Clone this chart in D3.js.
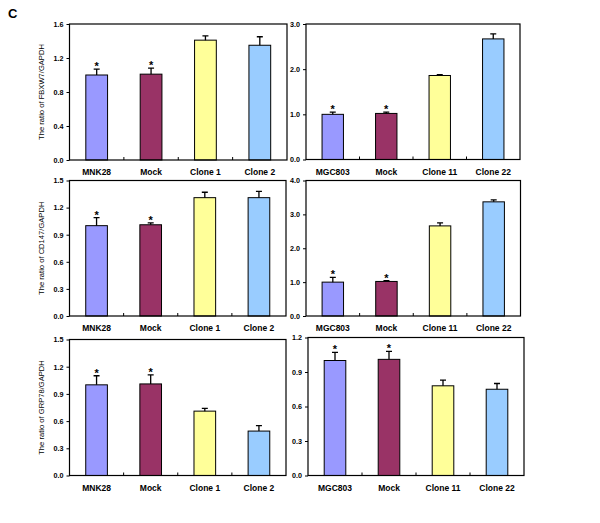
<!DOCTYPE html>
<html>
<head>
<meta charset="utf-8">
<script src="https://cdn.jsdelivr.net/npm/d3@7"></script>
<style>
  body { margin: 0; background: #fff; }
  svg text { font-family: "Liberation Sans", Arial, sans-serif; fill: #000; }
  .tick text { font-size: 7.2px; font-weight: bold; }
  .cat { font-size: 8.5px; font-weight: bold; }
  .ytitle { font-size: 7.6px; }
</style>
</head>
<body>
<div id="chart"></div>
<script>
// categories
const leftCats = ["MNK28", "Mock", "Clone 1", "Clone 2"];
const rightCats = ["MGC803", "Mock", "Clone 11", "Clone 22"];
const colors = ["#9999ff", "#993366", "#ffff99", "#99ccff"];
const starred = [true, true, false, false];
const yTitles = ["The ratio of FBXW7/GAPDH", "The ratio of CD147/GAPDH", "The ratio of GRP78/GAPDH"];

// FBXW7
const fbxw7Left = [1.00, 1.01, 1.41, 1.35];
const fbxw7LeftErr = [0.07, 0.07, 0.05, 0.10];
const fbxw7Right = [1.00, 1.02, 1.86, 2.67];
const fbxw7RightErr = [0.05, 0.03, 0.02, 0.11];
// CD147
const cd147Left = [1.00, 1.01, 1.31, 1.31];
const cd147LeftErr = [0.09, 0.02, 0.06, 0.07];
const cd147Right = [1.00, 1.02, 2.66, 3.37];
const cd147RightErr = [0.14, 0.02, 0.09, 0.06];
// GRP78
const grp78Left = [1.00, 1.01, 0.71, 0.49];
const grp78LeftErr = [0.10, 0.10, 0.03, 0.06];
const grp78Right = [1.00, 1.01, 0.78, 0.75];
const grp78RightErr = [0.07, 0.07, 0.05, 0.05];

// tick labels
const ticksA = [0, 0.4, 0.8, 1.2, 1.6];
const ticksB = [0, 1, 2, 3];
const ticksC = [0, 0.3, 0.6, 0.9, 1.2, 1.5];
const ticksD = [0, 1, 2, 3, 4];
const ticksE = [0, 0.3, 0.6, 0.9, 1.2];

const panels = [
  { x0: 69.5, x1: 287, y0: 24, y1: 160, cats: leftCats, vals: fbxw7Left, errs: fbxw7LeftErr, ticks: ticksA, title: yTitles[0] },
  { x0: 306, x1: 520, y0: 24, y1: 159.5, cats: rightCats, vals: fbxw7Right, errs: fbxw7RightErr, ticks: ticksB },
  { x0: 69.5, x1: 286, y0: 180.5, y1: 316, cats: leftCats, vals: cd147Left, errs: cd147LeftErr, ticks: ticksC, title: yTitles[1] },
  { x0: 306, x1: 520.5, y0: 180.5, y1: 316, cats: rightCats, vals: cd147Right, errs: cd147RightErr, ticks: ticksD },
  { x0: 69.5, x1: 286, y0: 339.5, y1: 475.5, cats: leftCats, vals: grp78Left, errs: grp78LeftErr, ticks: ticksC, title: yTitles[2] },
  { x0: 308, x1: 524, y0: 337.5, y1: 475.5, cats: rightCats, vals: grp78Right, errs: grp78RightErr, ticks: ticksE }
];

let svg = d3.select("#chart").append("svg")
  .attr("width", 600)
  .attr("height", 523);

svg.append("text")
  .attr("x", 8)
  .attr("y", 18)
  .style("font-size", "13px")
  .style("font-weight", "bold")
  .text("C");

for (let p of panels) {
  let x = d3.scaleBand()
    .domain(p.cats)
    .range([p.x0, p.x1])
    .paddingInner(0.6)
    .paddingOuter(0.3);

  let y = d3.scaleLinear()
    .domain([p.ticks[0], p.ticks[p.ticks.length - 1]])
    .range([p.y1, p.y0]);

  let g = svg.append("g");

  // y axis
  let yAxis = d3.axisLeft(y)
    .tickValues(p.ticks)
    .tickFormat(d3.format(".1f"))
    .tickSize(3)
    .tickPadding(3);
  let ax = g.append("g")
    .attr("transform", `translate(${p.x0},0)`)
    .call(yAxis);
  ax.select(".domain").remove();
  ax.selectAll(".tick line").attr("stroke", "#000");

  // bars
  g.selectAll("rect.bar")
    .data(p.vals)
    .enter()
    .append("rect")
    .attr("class", "bar")
    .attr("x", (d, i) => x(p.cats[i]))
    .attr("y", d => y(d))
    .attr("width", x.bandwidth())
    .attr("height", d => y(p.ticks[0]) - y(d))
    .attr("fill", (d, i) => colors[i])
    .attr("stroke", "#000")
    .attr("stroke-width", 1);

  // error bars (upper half)
  let cx = i => x(p.cats[i]) + x.bandwidth() / 2;
  g.selectAll("path.err")
    .data(p.vals)
    .enter()
    .append("path")
    .attr("class", "err")
    .attr("fill", "none")
    .attr("stroke", "#000")
    .attr("stroke-width", 1.3)
    .attr("d", (d, i) => {
      let top = y(d + p.errs[i]);
      return "M " + cx(i) + "," + y(d) + " L " + cx(i) + "," + top +
        " M " + (cx(i) - 3) + "," + top + " L " + (cx(i) + 3) + "," + top;
    });

  // stars
  g.selectAll("text.star")
    .data(p.vals.map((d, i) => ({ v: d, e: p.errs[i], i: i })).filter(d => starred[d.i]))
    .enter()
    .append("text")
    .attr("class", "star")
    .attr("x", d => cx(d.i))
    .attr("y", d => y(d.v + d.e) + 1)
    .attr("text-anchor", "middle")
    .style("font-size", "11px")
    .style("font-weight", "bold")
    .text("*");

  // x ticks at band boundaries, pointing inward
  let step = x.step();
  let bounds = p.cats.slice(1).map(c => x(c) - step * 0.3);
  g.selectAll("path.xtick")
    .data(bounds)
    .enter()
    .append("path")
    .attr("class", "xtick")
    .attr("stroke", "#000")
    .attr("d", d => "M " + d + "," + p.y1 + " L " + d + "," + (p.y1 - 3));

  // frame
  g.append("rect")
    .attr("x", p.x0)
    .attr("y", p.y0)
    .attr("width", p.x1 - p.x0)
    .attr("height", p.y1 - p.y0)
    .attr("fill", "none")
    .attr("stroke", "#000")
    .attr("stroke-width", 1.2);

  // category labels
  g.selectAll("text.cat")
    .data(p.cats)
    .enter()
    .append("text")
    .attr("class", "cat")
    .attr("x", d => x(d) + x.bandwidth() / 2)
    .attr("y", p.y1 + 15)
    .attr("text-anchor", "middle")
    .text(d => d);

  // y title
  if (p.title) {
    let tx = 44, ty = (p.y0 + p.y1) / 2;
    g.append("text")
      .attr("class", "ytitle")
      .attr("x", tx)
      .attr("y", ty)
      .attr("text-anchor", "middle")
      .attr("transform", `rotate(-90,${tx},${ty})`)
      .text(p.title);
  }
}
</script>
</body>
</html>
